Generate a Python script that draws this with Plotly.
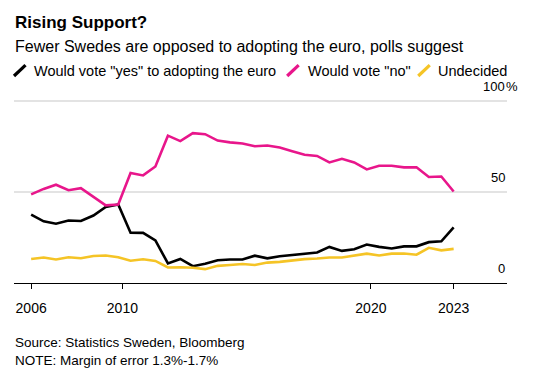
import plotly.graph_objects as go

# ---- data ----
dates = []
for yr in range(2006, 2024):
    dates.append(f"{yr}-05-01")
    if yr < 2023:
        dates.append(f"{yr}-11-01")

yes_vals = [37.5, 33.8, 32.5, 34.3, 34.0, 37.0, 41.7, 43.0, 27.6, 27.5,
            23.4, 10.7, 13.2, 9.2, 10.5, 12.5, 12.9, 12.9, 15.0, 13.5,
            14.7, 15.4, 16.3, 16.7, 19.8, 17.6, 18.5, 21.1, 19.8, 18.9,
            20.1, 20.1, 22.4, 22.9, 30.5]
no_vals = [48.6, 51.6, 53.9, 50.9, 52.0, 47.3, 42.6, 43.0, 60.3, 59.0,
           63.9, 80.8, 77.8, 82.2, 81.6, 78.1, 77.1, 76.5, 75.0, 75.4,
           74.3, 72.3, 70.3, 69.7, 66.1, 68.1, 66.1, 62.3, 64.3, 64.3,
           63.4, 63.5, 58.1, 58.4, 50.2]
undecided_vals = [13.2, 14.0, 12.9, 14.1, 13.6, 14.8, 15.1, 14.1, 12.2, 13.0,
                  12.1, 8.5, 8.6, 8.4, 7.6, 9.4, 9.9, 10.4, 9.9, 11.2,
                  11.6, 12.4, 13.1, 13.4, 14.0, 14.0, 14.9, 16.1, 15.1, 16.1,
                  16.2, 15.5, 19.3, 17.9, 18.7]

series_names = ['Would vote "yes" to adopting the euro', 'Would vote "no"', 'Undecided']
x_tick_vals = ["2006-05-01", "2010-01-01", "2020-01-01", "2023-05-01"]
x_tick_text = ["2006", "2010", "2020", "2023"]
y_tick_vals = [0, 50, 100]
y_tick_text = ["0", "50", "100"]

BLACK = "#000000"
PINK = "#e8168b"
YELLOW = "#f5c426"
FONT = "Liberation Sans, Arial, sans-serif"

W, H = 540, 375
L, R = 14, 506.7
B = 283.5
Y_MAX = 102
PX_PER_UNIT = 1.828
T = B - Y_MAX * PX_PER_UNIT


def px(x):
    return (x - L) / (R - L)


def py(y):
    return (B - y) / (B - T)


fig = go.Figure()
for vals, color, name in [(yes_vals, BLACK, series_names[0]),
                          (no_vals, PINK, series_names[1]),
                          (undecided_vals, YELLOW, series_names[2])]:
    fig.add_trace(go.Scatter(x=dates, y=vals, mode="lines", name=name,
                             line=dict(color=color, width=2.6),
                             showlegend=False))

annotations = [
    dict(text="<b>Rising Support?</b>", x=px(13), y=py(22), xref="paper", yref="paper",
         xanchor="left", yanchor="middle", showarrow=False,
         font=dict(size=17, color="#000", family=FONT)),
    dict(text="Fewer Swedes are opposed to adopting the euro, polls suggest",
         x=px(13), y=py(46.5), xref="paper", yref="paper",
         xanchor="left", yanchor="middle", showarrow=False,
         font=dict(size=16, color="#000", family=FONT)),
    dict(text="Source: Statistics Sweden, Bloomberg<br>NOTE: Margin of error 1.3%-1.7%",
         x=px(13), y=py(352), xref="paper", yref="paper", align="left",
         xanchor="left", yanchor="middle", showarrow=False,
         font=dict(size=13.5, color="#000", family=FONT)),
]

shapes = []
legend_pos = [(14, 31.5, BLACK), (287, 306, PINK), (418, 436, YELLOW)]
for (sx, tx, color), name in zip(legend_pos, series_names):
    shapes.append(dict(type="line", xref="paper", yref="paper",
                       x0=px(sx), y0=py(76), x1=px(sx + 11.5), y1=py(65),
                       line=dict(color=color, width=3.2)))
    annotations.append(dict(text=name, x=px(tx), y=py(70.5), xref="paper", yref="paper",
                            xanchor="left", yanchor="middle", showarrow=False,
                            font=dict(size=14.5, color="#000", family=FONT)))

for v, t in zip(y_tick_vals, y_tick_text):
    annotations.append(dict(text=t, x=1, y=v, xref="paper", yref="y",
                            xanchor="right", yanchor="bottom", yshift=5, showarrow=False,
                            font=dict(size=13, color="#000", family=FONT)))
    if v == 100:
        annotations.append(dict(text="%", x=1, y=v, xref="paper", yref="y",
                                xanchor="left", yanchor="bottom", yshift=5, xshift=-3,
                                showarrow=False,
                                font=dict(size=13, color="#000", family=FONT)))

fig.update_layout(
    width=W, height=H,
    margin=dict(l=L, r=W - R, t=T, b=H - B, pad=0),
    paper_bgcolor="white", plot_bgcolor="white",
    font=dict(family=FONT, size=13, color="#000"),
    annotations=annotations, shapes=shapes,
    xaxis=dict(type="date", range=["2005-08-22", "2025-06-23"],
               tickvals=x_tick_vals, ticktext=x_tick_text,
               showgrid=False, zeroline=False,
               showline=True, linecolor="#000", linewidth=1,
               ticks="outside", ticklen=5, tickcolor="#000", tickwidth=1,
               ticklabelstandoff=7,
               tickfont=dict(size=14, family=FONT, color="#000")),
    yaxis=dict(range=[0, Y_MAX], tickvals=y_tick_vals, showticklabels=False,
               showgrid=True, gridcolor="#e3e3e3", gridwidth=2,
               zeroline=False, showline=False, fixedrange=True),
)

fig.write_html("out.html", config={"displayModeBar": False, "staticPlot": True})

with open("out.html", "r", encoding="utf-8") as f:
    html = f.read()
html = html.replace("<body>", '<body style="margin:0;padding:0;">', 1)
html = html.replace("<head>", "<head><style>html,body{margin:0;padding:0;}</style>", 1)
with open("out.html", "w", encoding="utf-8") as f:
    f.write(html)
